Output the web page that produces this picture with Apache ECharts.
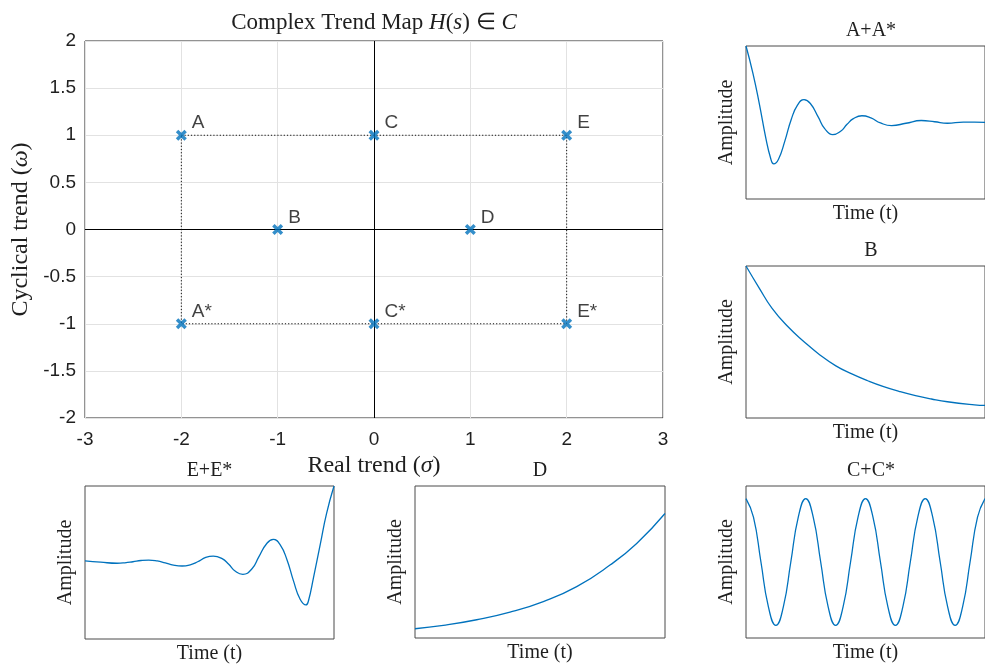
<!DOCTYPE html>
<html><head><meta charset="utf-8">
<script src="https://cdn.jsdelivr.net/npm/echarts@6/dist/echarts.min.js"></script>
<style>html,body{margin:0;padding:0;background:#fff}#c{width:985px;height:666px}</style>
</head><body><div id="c"></div>
<script>
// ---- main map data ----
const pointNames = ['A', 'A*', 'B', 'C', 'C*', 'D', 'E', 'E*'];
const sigmaVals  = [-2, -2, -1, 0, 0, 1, 2, 2];
const omegaVals  = [1, -1, 0, 1, -1, 0, 1, -1];
const rectOrder  = ['A', 'E', 'E*', 'A*', 'A'];

// ---- subplot signals (time 0..4, normalised amplitude 0..1) ----
const tAA = [0, 0.117, 0.224, 0.331, 0.41, 0.464, 0.544, 0.651, 0.757, 0.864, 0.971, 1.077, 1.21, 1.317, 1.451, 1.584, 1.691, 1.797, 1.941, 2.091, 2.251, 2.437, 2.677, 2.933, 3.157, 3.371, 3.637, 3.824, 4];
const vAA = [1.0, 0.82, 0.62, 0.40, 0.27, 0.229, 0.26, 0.38, 0.52, 0.615, 0.649, 0.624, 0.535, 0.46, 0.421, 0.443, 0.488, 0.525, 0.544, 0.53, 0.497, 0.48, 0.495, 0.513, 0.505, 0.495, 0.502, 0.502, 0.501];

const tB = [0, 0.224, 0.437, 0.704, 0.971, 1.237, 1.504, 1.771, 2.037, 2.304, 2.571, 2.837, 3.104, 3.371, 3.824, 4];
const vB = [1.0, 0.853, 0.721, 0.60, 0.502, 0.415, 0.343, 0.29, 0.245, 0.206, 0.174, 0.147, 0.125, 0.107, 0.087, 0.083];

const tEE = [0, 0.25, 0.515, 0.64, 0.77, 0.9, 1.024, 1.16, 1.29, 1.42, 1.56, 1.69, 1.81, 1.94, 2.06, 2.203, 2.309, 2.416, 2.536, 2.683, 2.79, 2.923, 3.025, 3.136, 3.243, 3.349, 3.456, 3.55, 3.59, 3.67, 3.78, 3.88, 4];
const vEE = [0.51, 0.502, 0.495, 0.498, 0.505, 0.513, 0.516, 0.51, 0.497, 0.483, 0.477, 0.485, 0.505, 0.533, 0.542, 0.525, 0.488, 0.443, 0.423, 0.459, 0.535, 0.626, 0.651, 0.615, 0.52, 0.38, 0.26, 0.223, 0.25, 0.40, 0.62, 0.82, 1.0];

const tD = [0, 0.453, 0.987, 1.52, 2.053, 2.587, 3.12, 3.547, 4];
const vD = [0.061, 0.083, 0.12, 0.17, 0.24, 0.338, 0.48, 0.622, 0.819];

const tCC = [0, 0.125, 0.25, 0.375, 0.5, 0.625, 0.75, 0.875, 1, 1.125, 1.25, 1.375, 1.5, 1.625, 1.75, 1.875, 2, 2.125, 2.25, 2.375, 2.5, 2.625, 2.75, 2.875, 3, 3.125, 3.25, 3.375, 3.5, 3.625, 3.75, 3.875, 4];
const vCC = [0.917, 0.795, 0.5, 0.205, 0.083, 0.205, 0.5, 0.795, 0.917, 0.795, 0.5, 0.205, 0.083, 0.205, 0.5, 0.795, 0.917, 0.795, 0.5, 0.205, 0.083, 0.205, 0.5, 0.795, 0.917, 0.795, 0.5, 0.205, 0.083, 0.205, 0.5, 0.795, 0.917];

const subTitles = ['A+A*', 'B', 'E+E*', 'D', 'C+C*'];
const subTimes  = [tAA, tB, tEE, tD, tCC];
const subVals   = [vAA, vB, vEE, vD, vCC];

// ---- styling / layout ----
const SERIF = "'Liberation Serif', 'DejaVu Serif', serif";
const SANS = "'Liberation Sans', Arial, sans-serif";
const BLUE = '#0072BD';
const TXT = '#1f1f1f';
const subGrids = [
  {left: 746, top: 46, width: 250, height: 153},
  {left: 746, top: 266, width: 250, height: 152},
  {left: 85, top: 486, width: 249, height: 153},
  {left: 415, top: 486, width: 250, height: 152},
  {left: 746, top: 486, width: 250, height: 152}
];

const grids = [{left: 85, top: 41, width: 578, height: 377, show: true, borderColor: '#262626', borderWidth: 1, backgroundColor: 'transparent'}]
  .concat(subGrids.map(g => Object.assign({show: true, borderColor: '#4a4a4a', borderWidth: 1, backgroundColor: 'transparent'}, g)));

const xAxes = [{
  type: 'value', gridIndex: 0, min: -3, max: 3, interval: 1,
  axisLine: {show: false}, axisTick: {show: false},
  axisLabel: {fontFamily: SANS, fontSize: 19, color: TXT, margin: 12},
  splitLine: {show: true, lineStyle: {color: '#e2e2e2', width: 1}},
  name: 'Real trend ({i|σ})', nameLocation: 'middle', nameGap: 35,
  nameTextStyle: {fontFamily: SERIF, fontSize: 24, color: TXT, rich: {i: {fontFamily: SERIF, fontSize: 24, fontStyle: 'italic', color: TXT}}}
}];
const yAxes = [{
  type: 'value', gridIndex: 0, min: -2, max: 2, interval: 0.5,
  axisLine: {show: false}, axisTick: {show: false},
  axisLabel: {fontFamily: SANS, fontSize: 19, color: TXT, margin: 9},
  splitLine: {show: true, lineStyle: {color: '#e2e2e2', width: 1}},
  name: 'Cyclical trend ({i|ω})', nameLocation: 'middle', nameGap: 51, nameRotate: 90,
  nameTextStyle: {fontFamily: SERIF, fontSize: 24, color: TXT, rich: {i: {fontFamily: SERIF, fontSize: 24, fontStyle: 'italic', color: TXT}}}
}];
subGrids.forEach((g, k) => {
  const gi = k + 1;
  xAxes.push({type: 'value', gridIndex: gi, min: 0, max: 4,
    axisLine: {show: false}, axisTick: {show: false}, axisLabel: {show: false}, splitLine: {show: false},
    name: 'Time (t)', nameLocation: 'middle', nameGap: 5,
    nameTextStyle: {fontFamily: SERIF, fontSize: 20, color: TXT, verticalAlign: 'top'}});
  yAxes.push({type: 'value', gridIndex: gi, min: 0, max: 1,
    axisLine: {show: false}, axisTick: {show: false}, axisLabel: {show: false}, splitLine: {show: false},
    name: 'Amplitude', nameLocation: 'middle', nameGap: 9, nameRotate: 90,
    nameTextStyle: {fontFamily: SERIF, fontSize: 20, color: TXT}});
});

const idx = n => pointNames.indexOf(n);
const rectData = rectOrder.map(n => [sigmaVals[idx(n)], omegaVals[idx(n)]]);
const scatterData = pointNames.map((n, i) => ({name: n, value: [sigmaVals[i], omegaVals[i]]}));

const XPATH = 'path://M0,2.2 L2.2,0 L5,2.8 L7.8,0 L10,2.2 L7.2,5 L10,7.8 L7.8,10 L5,7.2 L2.2,10 L0,7.8 L2.8,5 Z';

const series = [
  {type: 'line', xAxisIndex: 0, yAxisIndex: 0, data: rectData, symbol: 'none', silent: true,
   lineStyle: {color: '#111', width: 1, type: [1.2, 2]}, z: 2,
   markLine: {silent: true, symbol: 'none', label: {show: false},
     lineStyle: {color: '#000', width: 1, type: 'solid'},
     data: [{xAxis: 0}, {yAxis: 0}]}},
  {type: 'scatter', xAxisIndex: 0, yAxisIndex: 0, data: scatterData, symbol: XPATH, symbolSize: 11,
   itemStyle: {color: BLUE}, z: 5,
   label: {show: true, formatter: p => p.name, position: 'right', distance: 5, offset: [0, -12],
     fontFamily: SANS, fontSize: 19, color: '#111'}}
];
subTimes.forEach((ts, k) => {
  series.push({type: 'line', xAxisIndex: k + 1, yAxisIndex: k + 1, showSymbol: false, symbol: 'none',
    smooth: true, data: ts.map((t, j) => [t, subVals[k][j]]),
    lineStyle: {color: BLUE, width: 1.3}});
});

const graphics = [{type: 'text', x: 374, y: 23, z: 10,
  style: {text: 'Complex Trend Map {i|H}({i|s}) ∈ {i|C}', font: "23px 'Liberation Serif'", fill: TXT,
    align: 'center', verticalAlign: 'middle', textAlign: 'center', textVerticalAlign: 'middle',
    rich: {i: {fontStyle: 'italic', fontSize: 23, fontFamily: 'Liberation Serif', fill: TXT}}}}];
subGrids.forEach((g, k) => {
  graphics.push({type: 'text', x: g.left + g.width / 2, y: g.top - 15, z: 10,
    style: {text: subTitles[k], font: "20px 'Liberation Serif'", fill: TXT,
      align: 'center', verticalAlign: 'middle', textAlign: 'center', textVerticalAlign: 'middle'}});
});

const chart = echarts.init(document.getElementById('c'), null, {renderer: 'canvas'});
chart.setOption({
  animation: false,
  backgroundColor: '#fff',
  grid: grids,
  xAxis: xAxes,
  yAxis: yAxes,
  series: series,
  graphic: graphics
});
</script></body></html>
